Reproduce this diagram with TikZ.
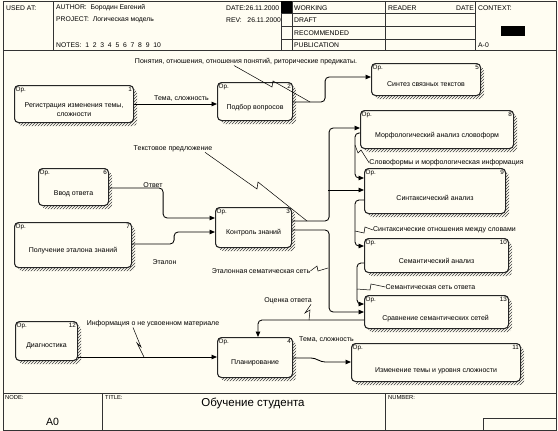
\documentclass[tikz,border=0pt]{standalone}
\usepackage{fontspec}
\setmainfont{Liberation Sans}
\usepackage{tikz}
\usetikzlibrary{arrows.meta}
\usetikzlibrary{patterns}
\definecolor{paper}{RGB}{255,253,242}

\begin{document}
\begin{tikzpicture}[
        x=1pt,
        y=-1pt,
        font=\fontsize{7}{9}\selectfont,
        frameS/.style={
            line width=0.6pt,
            draw=black!80
        },
        hdrS/.style={
            anchor=west,
            inner sep=0pt,
            font=\fontsize{6.8}{8}\selectfont
        },
        tinyS/.style={
            anchor=west,
            inner sep=0pt,
            font=\fontsize{5.8}{6}\selectfont
        },
        boxS/.style={
            draw=black!85,
            line width=1.1pt,
            fill=paper,
            rounded corners=4pt,
            anchor=north west,
            inner sep=0pt
        },
        shadowS/.style={
            pattern=north east lines,
            pattern color=black!75,
            rounded corners=4pt
        },
        cornerS/.style={
            inner sep=0pt,
            font=\fontsize{6.3}{7}\selectfont
        },
        textS/.style={
            align=center,
            inner sep=0pt
        },
        labelS/.style={inner sep=0pt},
        arrowS/.style={
            line width=0.85pt,
            rounded corners=4pt,
            -{Triangle[length=5.5pt,width=4.5pt]}
        },
        leaderS/.style={line width=0.5pt},
    ]

    \useasboundingbox (0,0) rectangle (558,431);
    \fill[paper] (0,0) rectangle (558,431);

    % frame
    \draw[frameS] (3,1) rectangle (556,430);
    \draw[frameS] (3,50) -- (556,50);
    \draw[frameS] (3,393) -- (556,393);
    \draw[frameS] (53,1) -- (53,50);
    \draw[frameS] (281,1) -- (281,50);
    \draw[frameS] (292,1) -- (292,50);
    \draw[frameS] (385,1) -- (385,50);
    \draw[frameS] (475,1) -- (475,50);
    \foreach \r in {13,26,39}{
        \draw[frameS] (281,\r) -- (475,\r);
    }
    \draw[frameS] (102,393) -- (102,430);
    \draw[frameS] (385,393) -- (385,430);
    \draw[frameS] (483,418) rectangle (556,430);

    \node[hdrS] (UsedAt) at (6,8) {USED AT:};
    \node[hdrS] (Author) at (56,8) {AUTHOR:\ \ Бородин Евгений};
    \node[hdrS] (Project) at (56,20) {PROJECT:\ \ Логическая модель};
    \node[hdrS] (Notes) at (56,45) {NOTES:\ \ 1\ \ 2\ \ 3\ \ 4\ \ 5\ \ 6\ \ 7\ \ 8\ \ 9\ \ 10};
    \node[hdrS] (Date) at (226,8) {DATE:26.11.2000};
    \node[hdrS] (Rev) at (226,20) {REV:\ \ \ 26.11.2000};
    \fill (281,1) rectangle (292,13);
    \node[hdrS] (Working) at (294,8) {WORKING};
    \node[hdrS] (Draft) at (294,20) {DRAFT};
    \node[hdrS] (Recom) at (294,33) {RECOMMENDED};
    \node[hdrS] (Publ) at (294,45) {PUBLICATION};
    \node[hdrS] (Reader) at (388,8) {READER};
    \node[hdrS, anchor=east] (RDate) at (474,8) {DATE};
    \node[hdrS] (Context) at (478,8) {CONTEXT:};
    \fill (501,26) rectangle (525,36);
    \node[hdrS] (Ctx) at (478,45) {A-0};

    \node[tinyS] (NodeT) at (5,398) {NODE:};
    \node[tinyS] (TitleT) at (105,398) {TITLE:};
    \node[tinyS] (NumberT) at (388,398) {NUMBER:};
    \node[font=\fontsize{10.5}{11}\selectfont, inner sep=0pt] (NodeA) at (52.5,422) {A0};
    \node[font=\fontsize{11.5}{12}\selectfont, inner sep=0pt] (Title) at (253,403) {Обучение студента};

    % activities
    \foreach \n/\x/\y/\w/\h/\dy/\txt in {
        1/14/85/119/37/6/{Регистрация изменения темы,\\сложности},
        2/217/82/75/38/6/{Подбор вопросов},
        3/215/207/76/40/5/{Контроль знаний},
        4/217/337/75/40/5/{Планирование},
        5/371/63/109/32/5/{Синтез связных текстов},
        6/38/168/70/37/6.5/{Ввод ответа},
        7/14/222/117/45/5.5/{Получение эталона знаний},
        8/360/110/153/38/6/{Морфологический анализ словоформ},
        9/364/168/141/45/6.5/{Синтаксический анализ},
        10/364/238/144/34/5.5/{Семантический анализ},
        11/351/343/169/38/8/{Изменение темы и уровня сложности},
        12/15/321/62/39/4.5/{Диагностика},
        13/364/295/144/33/6.5/{Сравнение семантических сетей}
    }{
        \fill[shadowS] (\x+4,\y+4) rectangle ++(\w,\h);
        \node[boxS, minimum width=\w pt, minimum height=\h pt] (B\n) at (\x,\y) {};
        \node[cornerS, anchor=north west] (P\n) at ([xshift=1.5pt,yshift=-2pt]B\n.north west) {Ор.};
        \node[cornerS, anchor=north east] (N\n) at ([xshift=-2pt,yshift=-2pt]B\n.north east) {\n};
        \node[textS] (T\n) at ([yshift=-\dy pt]B\n.center) {\txt};
    }

    % arrows
    \draw[arrowS] (B1.east |- 0,104) -- (B2.west |- 0,104);
    \draw[arrowS] (B2.east |- 0,102) -- ++(32,0) |- (B5.west |- 0,77);
    \draw[arrowS] (B3.east |- 0,221) -- ++(37,0) |- (B8.west |- 0,128);
    \coordinate (J3) at (328,190);
    \draw[arrowS] (J3) -- (B9.west |- 0,190);
    \draw[arrowS] (B3.east |- 0,230) -- ++(37,0) |- (B13.west |- 0,312);
    \draw[arrowS] (B6.east |- 0,188) -- ++(54,0) |- (B3.west |- 0,218);
    \draw[arrowS] (B7.east |- 0,244) -- ++(42,0) |- (B3.west |- 0,232);
    \draw[arrowS] (B8.west |- 0,133) -- ++(-5,0) |- (B9.west |- 0,178);
    \draw[arrowS] (B9.west |- 0,200) -- ++(-9,0) |- (B10.west |- 0,246);
    \draw[arrowS] (B10.west |- 0,263) -- ++(-7,0) |- (B13.west |- 0,304);
    \draw[arrowS] (B13.west |- 0,320) -| (B4.north -| 258,0);
    \draw[arrowS] (B12.east |- 0,357) -- (B4.west |- 0,357);
    \draw[arrowS] (B4.east |- 0,358) -- ++(22,0) -- ++(6,4) -- (B11.west |- 0,362);

    % labels
    \node[labelS] (LPon) at (246,62) {Понятия, отношения, отношения понятий, риторические предикаты.};
    \node[labelS] (LTema1) at (181.5,99) {Тема, сложность};
    \node[labelS] (LTekst) at (173,149) {Текстовое предложение};
    \node[labelS] (LOtv) at (153,185) {Ответ};
    \node[labelS] (LEtal) at (164.5,262) {Эталон};
    \node[labelS] (LEtSem) at (261,271) {Эталонная сематическая сеть};
    \node[labelS] (LSlov) at (446.5,163) {Словоформы и морфологическая информация};
    \node[labelS] (LSint) at (444.5,230) {Синтаксические отношения между словами};
    \node[labelS] (LSemO) at (430.5,287) {Семантическая сеть ответа};
    \node[labelS] (LOcen) at (288,301) {Оценка ответа};
    \node[labelS] (LInfo) at (153,324) {Информация о не усвоенном материале};
    \node[labelS] (LTema2) at (326.5,340) {Тема, сложность};

    % leaders
    \coordinate (A25) at (310,102);
    \coordinate (A3a) at (307,221);
    \coordinate (A3b) at (328,268);
    \coordinate (A89) at (355,145);
    \coordinate (A910) at (355,231);
    \coordinate (A1013) at (357,289);
    \coordinate (A134) at (309,320);
    \coordinate (A124) at (144,357);
    \draw[leaderS] (LPon.south -| 234,0) -- (272,87) -- (273,81) -- (A25);
    \draw[leaderS] (LTekst.south -| 205,0) -- (257,189) -- (258,182) -- (A3a);
    \draw[leaderS] (LEtSem.east) -- (317,266) -- (318,271) -- (A3b);
    \draw[leaderS] (LSlov.west) -- (361,150) -- (358,153) -- (A89);
    \draw[leaderS] (LSint.west) -- (365,227) -- (364,233) -- (A910);
    \draw[leaderS] (LSemO.west) -- (371,284) -- (370,290) -- (A1013);
    \draw[leaderS] (LOcen.south -| 311,0) -- (305,313) -- (310,310) -- (A134);
    \draw[leaderS] (LInfo.south -| 133,0) -- (141,347) -- (137,343) -- (A124);

\end{tikzpicture}
\end{document}
